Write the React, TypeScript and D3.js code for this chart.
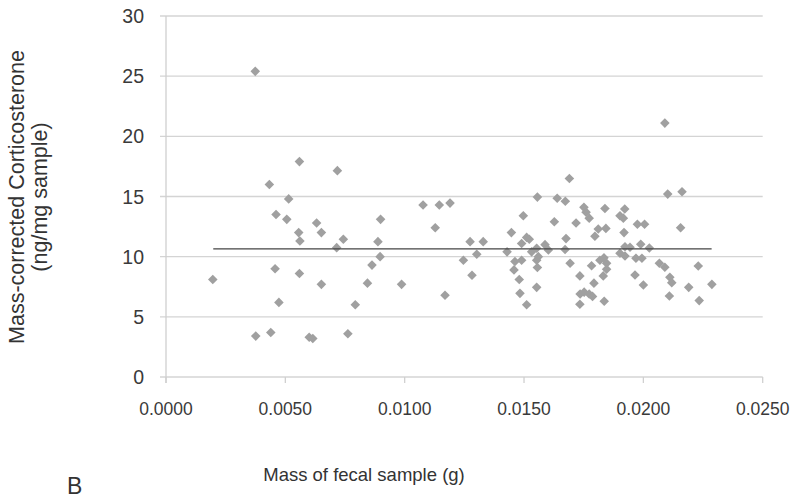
import React from "react";
import * as d3 from "d3";

const massG: number[] = [
  0.00196, 0.00374, 0.00376, 0.00433, 0.00439, 0.00457, 0.00461, 0.00473, 0.00506, 0.00514,
  0.00556, 0.00559, 0.00559, 0.00561, 0.006, 0.00615, 0.00631, 0.00651, 0.00651, 0.00718,
  0.00715, 0.00743, 0.00762, 0.00793, 0.00844, 0.00863, 0.00888, 0.00897, 0.00899, 0.00987,
  0.01077, 0.01128, 0.01145, 0.01169, 0.0119, 0.01246, 0.01274, 0.01282, 0.01302, 0.01329,
  0.01429, 0.01447, 0.01458, 0.01462, 0.0148, 0.01483, 0.0149, 0.0149, 0.01497, 0.01511,
  0.01511, 0.01522, 0.01532, 0.01553, 0.0156, 0.01553, 0.01556, 0.01553, 0.01556, 0.01588,
  0.01602, 0.01627, 0.01639, 0.01673, 0.0169, 0.01676, 0.01672, 0.01693, 0.01718, 0.01734,
  0.01734, 0.01735, 0.01752, 0.01773, 0.01787, 0.01751, 0.0176, 0.01773, 0.01783, 0.01793,
  0.01797, 0.01811, 0.01818, 0.01835, 0.01846, 0.01846, 0.01832, 0.01836, 0.01839, 0.01843,
  0.01902, 0.01916, 0.01922, 0.01919, 0.01902, 0.01923, 0.01923, 0.01944, 0.01965, 0.01969,
  0.01975, 0.01989, 0.01994, 0.02, 0.02005, 0.02025, 0.02067, 0.0209, 0.0209, 0.02102,
  0.02109, 0.02111, 0.02119, 0.02156, 0.02162, 0.0219, 0.0223, 0.02234, 0.02287,
];

const cort: number[] = [
  8.1, 25.4, 3.4, 16.0, 3.7, 9.0, 13.5, 6.2, 13.1, 14.8,
  12.0, 17.9, 8.6, 11.3, 3.3, 3.2, 12.8, 12.0, 7.7, 17.15,
  10.75, 11.45, 3.6, 6.0, 7.8, 9.3, 11.25, 10.0, 13.1, 7.7,
  14.3, 12.4, 14.3, 6.8, 14.45, 9.7, 11.25, 8.45, 10.2, 11.25,
  10.4, 12.0, 8.9, 9.6, 8.1, 6.95, 11.1, 9.7, 13.4, 11.6,
  6.0, 11.45, 10.4, 10.7, 10.0, 9.7, 9.1, 7.45, 14.95, 11.0,
  10.55, 12.9, 14.85, 14.6, 16.5, 11.5, 10.6, 9.45, 12.8, 8.4,
  6.05, 6.9, 7.05, 6.9, 6.7, 14.1, 13.7, 13.2, 9.25, 7.8,
  11.7, 12.3, 9.7, 9.9, 9.45, 8.95, 8.4, 6.3, 14.0, 12.35,
  13.4, 13.2, 13.96, 12.0, 10.28, 10.83, 10.06, 10.78, 8.48, 9.87,
  12.7, 11.03, 9.87, 7.65, 12.7, 10.72, 9.45, 9.12, 21.1, 15.2,
  6.73, 8.29, 7.84, 12.4, 15.4, 7.45, 9.23, 6.35, 7.7,
];

const meanLineX: number[] = [0.00198, 0.02286];
const meanValue = 10.64;

const xTicks: number[] = [0, 0.005, 0.01, 0.015, 0.02, 0.025];
const yTicks: number[] = [0, 5, 10, 15, 20, 25, 30];

export default function App() {
  const x = d3.scaleLinear().domain([0, 0.025]).range([166, 762.7]);
  const y = d3.scaleLinear().domain([0, 30]).range([377, 16]);
  const diamond = d3.symbol().type(d3.symbolSquare).size(46)();
  const meanLine = d3
    .line<number>()
    .x((d) => x(d))
    .y(() => y(meanValue))(meanLineX);
  const font = "'Liberation Sans', Arial, sans-serif";

  return (
    <svg
      width={800}
      height={503}
      style={{ position: "absolute", left: 0, top: 0, background: "#fff" }}
    >
      <rect x={0} y={0} width={800} height={503} fill="#fff" />
      {yTicks.map((t) => (
        <line
          key={"g" + t}
          x1={160}
          x2={x(0.025)}
          y1={y(t)}
          y2={y(t)}
          stroke="#d4d4d4"
          strokeWidth={1.3}
        />
      ))}
      <line x1={x(0)} x2={x(0)} y1={y(30)} y2={y(0) + 6} stroke="#d0d0d0" strokeWidth={1.3} />
      {xTicks.map((t) => (
        <line
          key={"xt" + t}
          x1={x(t)}
          x2={x(t)}
          y1={y(0)}
          y2={y(0) + 6}
          stroke="#d0d0d0"
          strokeWidth={1.3}
        />
      ))}
      {yTicks.map((t) => (
        <text
          key={"yl" + t}
          x={144}
          y={y(t)}
          dy="0.36em"
          textAnchor="end"
          fontFamily={font}
          fontSize={19.5}
          fill="#3a3a3a"
        >
          {t}
        </text>
      ))}
      {xTicks.map((t) => (
        <text
          key={"xl" + t}
          x={x(t)}
          y={415}
          textAnchor="middle"
          fontFamily={font}
          fontSize={17.5}
          fill="#3a3a3a"
        >
          {t.toFixed(4)}
        </text>
      ))}
      {massG.map((m, i) => (
        <path
          key={"p" + i}
          d={diamond as string}
          transform={`translate(${x(m)},${y(cort[i])}) rotate(45)`}
          fill="#a0a0a0"
        />
      ))}
      <path d={meanLine as string} stroke="#454545" strokeWidth={1.3} fill="none" />
      <text
        x={364}
        y={481}
        textAnchor="middle"
        fontFamily={font}
        fontSize={18.5}
        fill="#333"
      >
        Mass of fecal sample (g)
      </text>
      <text
        transform="translate(24,197) rotate(-90)"
        textAnchor="middle"
        fontFamily={font}
        fontSize={21.5}
        fill="#333"
      >
        Mass-corrected Corticosterone
      </text>
      <text
        transform="translate(47,197) rotate(-90)"
        textAnchor="middle"
        fontFamily={font}
        fontSize={21.5}
        fill="#333"
      >
        (ng/mg sample)
      </text>
      <text x={67} y={494} fontFamily={font} fontSize={23} fill="#333">
        B
      </text>
    </svg>
  );
}
